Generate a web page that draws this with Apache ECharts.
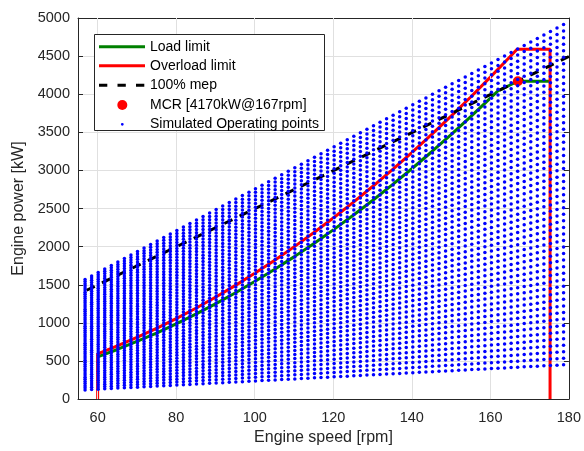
<!DOCTYPE html>
<html>
<head>
<meta charset="utf-8">
<script src="https://cdn.jsdelivr.net/npm/echarts@6/dist/echarts.min.js"></script>
<style>
html,body{margin:0;padding:0;background:#fff;}
#chart{width:584px;height:451px;}
</style>
</head>
<body>
<div id="chart"></div>
<script>
// ---- axis ticks ----
var xTicks = [60, 80, 100, 120, 140, 160, 180];
var yTicks = [0, 500, 1000, 1500, 2000, 2500, 3000, 3500, 4000, 4500, 5000];

// ---- Load limit (green) ----
var loadSpeed = [60, 65, 70, 75, 80, 85, 90, 95, 100, 105, 110, 115, 120, 125, 130, 135, 140, 145, 150, 155, 160, 161.9, 167, 175.2];
var loadPower = [555, 651, 756, 867, 987, 1114, 1249, 1392, 1542, 1700, 1866, 2039, 2220, 2409, 2606, 2810, 3022, 3242, 3470, 3705, 3948, 4042, 4170, 4170];

// ---- Overload limit (red) ----
var overSpeed = [60, 60, 65, 70, 75, 80, 85, 90, 95, 100, 105, 110, 115, 120, 125, 130, 135, 140, 145, 150, 155, 160, 165, 166.8, 175.2, 175.2];
var overPower = [0, 594, 697, 809, 928, 1056, 1192, 1337, 1489, 1650, 1819, 1997, 2182, 2376, 2578, 2789, 3007, 3234, 3469, 3713, 3964, 4224, 4492, 4591, 4591, 0];

// ---- 100% mep (black dashed) ----
var mepSpeed = [57.2, 180];
var mepPower = [1428, 4495];

// ---- MCR ----
var mcrSpeed = [167];
var mcrPower = [4170];

// ---- Simulated operating points: column speeds, lowest and highest power per column ----
var colSpeed = [56.80, 58.47, 60.14, 61.81, 63.48, 65.15, 66.81, 68.48, 70.15, 71.82,
  73.49, 75.16, 76.83, 78.50, 80.17, 81.84, 83.50, 85.17, 86.84, 88.51,
  90.18, 91.85, 93.52, 95.19, 96.86, 98.53, 100.19, 101.86, 103.53, 105.20,
  106.87, 108.54, 110.21, 111.88, 113.55, 115.22, 116.88, 118.55, 120.22, 121.89,
  123.56, 125.23, 126.90, 128.57, 130.24, 131.91, 133.57, 135.24, 136.91, 138.58,
  140.25, 141.92, 143.59, 145.26, 146.93, 148.60, 150.26, 151.93, 153.60, 155.27,
  156.94, 158.61, 160.28, 161.95, 163.62, 165.29, 166.95, 168.62, 170.29, 171.96,
  173.63, 175.30, 176.97, 178.64];
var colMax = [1570, 1616, 1662, 1707, 1753, 1799, 1845, 1891, 1937, 1982,
  2028, 2074, 2120, 2166, 2211, 2257, 2303, 2349, 2395, 2440,
  2486, 2532, 2578, 2624, 2670, 2715, 2761, 2807, 2853, 2899,
  2944, 2990, 3036, 3082, 3128, 3173, 3219, 3265, 3311, 3357,
  3403, 3448, 3494, 3540, 3586, 3632, 3677, 3723, 3769, 3815,
  3861, 3907, 3952, 3998, 4044, 4090, 4136, 4181, 4227, 4273,
  4319, 4365, 4410, 4456, 4502, 4548, 4594, 4640, 4685, 4731,
  4777, 4823, 4869, 4914];
var colMin = [121, 126, 130, 135, 139, 144, 148, 153, 157, 162,
  166, 171, 175, 180, 184, 189, 193, 198, 202, 207,
  211, 216, 220, 225, 229, 234, 238, 243, 247, 252,
  256, 261, 265, 270, 274, 279, 283, 288, 292, 297,
  301, 306, 310, 315, 319, 324, 328, 333, 337, 342,
  346, 351, 355, 360, 364, 369, 373, 378, 382, 387,
  391, 396, 400, 405, 409, 414, 418, 423, 427, 432,
  436, 441, 445, 450];
var loadFrac = [0, 0.0192, 0.0385, 0.0577, 0.0769, 0.0962, 0.1154, 0.1346, 0.1538, 0.1731,
  0.1923, 0.2115, 0.2308, 0.25, 0.2692, 0.2885, 0.3077, 0.3269, 0.3462, 0.3654,
  0.3846, 0.4038, 0.4231, 0.4423, 0.4615, 0.4808, 0.5, 0.5192, 0.5385, 0.5577,
  0.5769, 0.5962, 0.6154, 0.6346, 0.6538, 0.6731, 0.6923, 0.7115, 0.7308, 0.75,
  0.7692, 0.7885, 0.8077, 0.8269, 0.8462, 0.8654, 0.8846, 0.9038, 0.9231, 0.9423,
  0.9615, 0.9808, 1];

// ---- legend texts ----
var legendNames = ['Load limit', 'Overload limit', '100% mep', 'MCR [4170kW@167rpm]', 'Simulated Operating points'];

function zip(a, b) { return a.map(function (v, i) { return [v, b[i]]; }); }
var simPoints = [];
colSpeed.forEach(function (s, i) {
  loadFrac.forEach(function (f) {
    simPoints.push([s, colMin[i] + f * (colMax[i] - colMin[i])]);
  });
});

var FONT = '"Liberation Sans", Arial, Helvetica, sans-serif';
var AX = '#262626';
var GRIDC = '#e0e0e0';

var chart = echarts.init(document.getElementById('chart'), null, {renderer: 'canvas'});

var lx0 = 99, lx1 = 145, ltx = 150;
var ly = [46.7, 65.7, 85.3, 105, 124.3];

chart.setOption({
  animation: false,
  backgroundColor: '#fff',
  grid: {left: 78, right: 11, top: 18, bottom: 50},
  xAxis: [{
    type: 'value', position: 'bottom', min: 55, max: 180,
    name: 'Engine speed [rpm]', nameLocation: 'middle', nameGap: 28,
    nameTextStyle: {fontFamily: FONT, fontSize: 16, color: AX},
    axisLine: {show: true, onZero: false, lineStyle: {color: AX, width: 1}},
    axisTick: {show: true, inside: true, length: 5, customValues: xTicks, lineStyle: {color: AX}},
    axisLabel: {show: true, customValues: xTicks, margin: 11, fontFamily: FONT, fontSize: 14.5, color: AX},
    splitLine: {show: false}
  }, {
    type: 'value', position: 'top', min: 55, max: 180,
    axisLine: {show: true, onZero: false, lineStyle: {color: AX, width: 1}},
    axisTick: {show: true, inside: true, length: 5, customValues: xTicks, lineStyle: {color: AX}},
    axisLabel: {show: false, customValues: xTicks},
    splitLine: {show: false}
  }],
  yAxis: [{
    type: 'value', position: 'left', min: 0, max: 5000, interval: 500,
    name: 'Engine power [kW]', nameLocation: 'middle', nameGap: 48,
    nameTextStyle: {fontFamily: FONT, fontSize: 16, color: AX},
    axisLine: {show: true, onZero: false, lineStyle: {color: AX, width: 1}},
    axisTick: {show: true, inside: true, length: 5, lineStyle: {color: AX}},
    axisLabel: {show: true, margin: 8, fontFamily: FONT, fontSize: 14.5, color: AX,
      formatter: function (v) { return String(v); }},
    splitLine: {show: true, lineStyle: {color: GRIDC, width: 1}}
  }, {
    type: 'value', position: 'right', min: 0, max: 5000, interval: 500,
    axisLine: {show: true, onZero: false, lineStyle: {color: AX, width: 1}},
    axisTick: {show: true, inside: true, length: 5, lineStyle: {color: AX}},
    axisLabel: {show: false},
    splitLine: {show: false}
  }],
  series: [
    {
      name: 'grid', type: 'line', data: [], z: 1, silent: true,
      markLine: {
        silent: true, symbol: ['none', 'none'], label: {show: false}, animation: false,
        lineStyle: {color: GRIDC, width: 1, type: 'solid'},
        emphasis: {disabled: true},
        data: xTicks.filter(function (v) { return v < 180; }).map(function (v) { return {xAxis: v}; })
      }
    },
    {
      name: legendNames[0], type: 'line', data: zip(loadSpeed, loadPower), z: 3,
      showSymbol: false, symbol: 'none', lineStyle: {color: '#008000', width: 3}, silent: true
    },
    {
      name: legendNames[1], type: 'line', data: zip(overSpeed, overPower), z: 4,
      showSymbol: false, symbol: 'none', lineStyle: {color: '#ff0000', width: 3}, silent: true
    },
    {
      name: legendNames[2], type: 'line', data: zip(mepSpeed, mepPower), z: 5,
      showSymbol: false, symbol: 'none', lineStyle: {color: '#000000', width: 3, type: [9, 8]}, silent: true
    },
    {
      name: legendNames[3], type: 'scatter', data: zip(mcrSpeed, mcrPower), z: 6,
      symbol: 'circle', symbolSize: 10, itemStyle: {color: '#ff0000', opacity: 1}, silent: true
    },
    {
      name: legendNames[4], type: 'scatter', data: simPoints, z: 7,
      symbol: 'circle', symbolSize: 3.5, itemStyle: {color: '#0000ff', opacity: 1},
      silent: true, progressive: 0, large: false
    }
  ],
  graphic: [
    {type: 'rect', z: 100, shape: {x: 94.5, y: 34.5, width: 230, height: 96},
      style: {fill: '#ffffff', stroke: '#262626', lineWidth: 1}},
    {type: 'line', z: 101, shape: {x1: lx0, y1: ly[0], x2: lx1, y2: ly[0]}, style: {stroke: '#008000', lineWidth: 3}},
    {type: 'line', z: 101, shape: {x1: lx0, y1: ly[1], x2: lx1, y2: ly[1]}, style: {stroke: '#ff0000', lineWidth: 3}},
    {type: 'line', z: 101, shape: {x1: lx0, y1: ly[2], x2: lx1, y2: ly[2]}, style: {stroke: '#000000', lineWidth: 3, lineDash: [8.3, 10.2]}},
    {type: 'circle', z: 101, shape: {cx: 122.3, cy: ly[3], r: 5}, style: {fill: '#ff0000'}},
    {type: 'circle', z: 101, shape: {cx: 122.3, cy: ly[4], r: 1.4}, style: {fill: '#0000ff'}},
    {type: 'text', z: 101, x: ltx, y: ly[0], style: {text: legendNames[0], fill: '#000', font: '14px ' + FONT, verticalAlign: 'middle'}},
    {type: 'text', z: 101, x: ltx, y: ly[1], style: {text: legendNames[1], fill: '#000', font: '14px ' + FONT, verticalAlign: 'middle'}},
    {type: 'text', z: 101, x: ltx, y: ly[2], style: {text: legendNames[2], fill: '#000', font: '14px ' + FONT, verticalAlign: 'middle'}},
    {type: 'text', z: 101, x: ltx, y: ly[3], style: {text: legendNames[3], fill: '#000', font: '14px ' + FONT, verticalAlign: 'middle'}},
    {type: 'text', z: 101, x: ltx, y: ly[4], style: {text: legendNames[4], fill: '#000', font: '14px ' + FONT, verticalAlign: 'middle'}}
  ]
});
</script>
</body>
</html>
